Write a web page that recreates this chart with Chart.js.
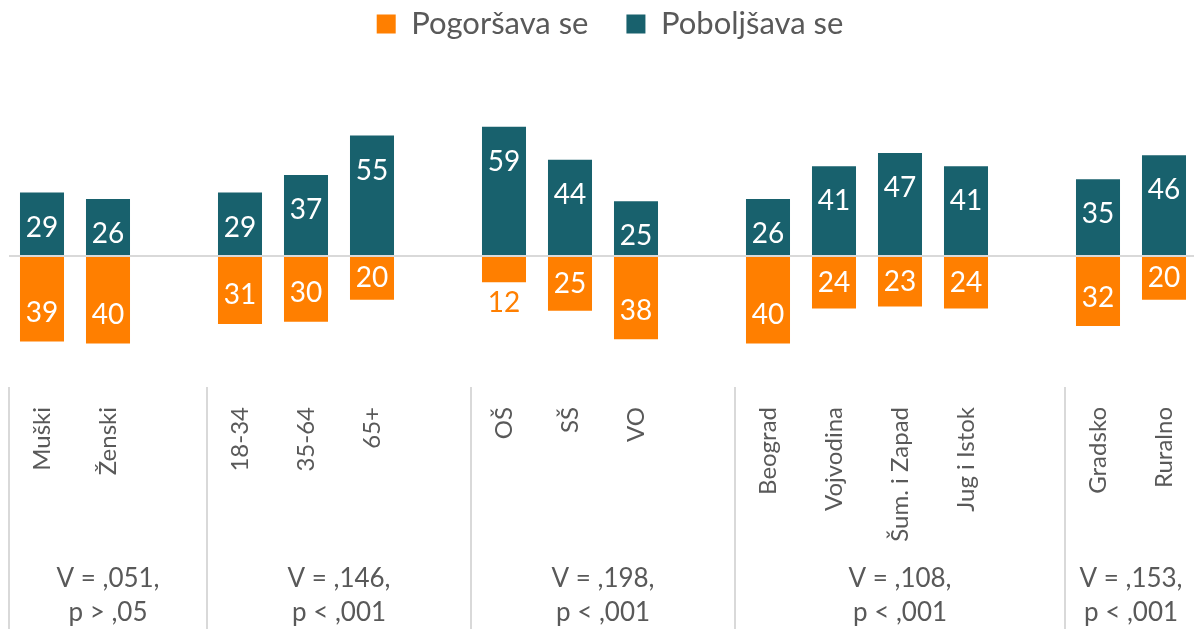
<!DOCTYPE html>
<html><head><meta charset="utf-8">
<script src="https://cdn.jsdelivr.net/npm/chart.js@4.4.0/dist/chart.umd.min.js"></script>
<style>
html,body{margin:0;padding:0;overflow:hidden;background:#fff}
#wrap{width:1211px;height:629px;position:relative}
</style></head>
<body><div id="wrap"><canvas id="c"></canvas></div>
<script>
const categories = ['Muški','Ženski','','18-34','35-64','65+','','OŠ','SŠ','VO','','Beograd','Vojvodina','Šum. i Zapad','Jug i Istok','','Gradsko','Ruralno'];
const worse  = [39,40,null,31,30,20,null,12,25,38,null,40,24,23,24,null,32,20];
const better = [29,26,null,29,37,55,null,59,44,25,null,26,41,47,41,null,35,46];
const seriesNames = ['Pogoršava se','Poboljšava se'];
const groupStarts = [0,3,7,11,16];
const statLine1 = ['V = ,051,','V = ,146,','V = ,198,','V = ,108,','V = ,153,'];
const statLine2 = ['p > ,05','p < ,001','p < ,001','p < ,001','p < ,001'];

const ORANGE = '#FF7F00', TEAL = '#18616D', GREY = '#595959', LINE = '#D9D9D9';
const FONT = 'Lato';

const overlay = {
  id: 'overlay',
  afterDatasetsDraw(chart) {
    const ctx = chart.ctx;
    ctx.save();
    ctx.font = '28px ' + FONT;
    ctx.textAlign = 'center';
    ctx.textBaseline = 'middle';
    chart.getDatasetMeta(0).data.forEach((el, i) => {
      if (worse[i] == null) return;
      const h = el.y - el.base;
      let y, col;
      if (h < 35) { y = el.y + 21; col = ORANGE; }
      else { y = el.y - Math.min(28.5, h / 2); col = '#FFFFFF'; }
      ctx.fillStyle = col;
      ctx.fillText(String(worse[i]), el.x, y);
    });
    chart.getDatasetMeta(1).data.forEach((el, i) => {
      if (better[i] == null) return;
      ctx.fillStyle = '#FFFFFF';
      ctx.fillText(String(better[i]), el.x, el.y + 35);
    });
    ctx.restore();
  },
  afterDraw(chart) {
    const ctx = chart.ctx, xs = chart.scales.x, ca = chart.chartArea;
    const slot = xs.getPixelForValue(1) - xs.getPixelForValue(0);
    const edges = groupStarts.map(i => xs.getPixelForValue(i) - slot / 2);
    edges.push(ca.right);
    ctx.save();
    ctx.strokeStyle = LINE;
    ctx.lineWidth = 2;
    for (let k = 0; k < groupStarts.length; k++) {
      ctx.beginPath();
      ctx.moveTo(edges[k], ca.bottom + 2);
      ctx.lineTo(edges[k], chart.height);
      ctx.stroke();
    }
    ctx.fillStyle = GREY;
    ctx.font = '26px ' + FONT;
    ctx.textAlign = 'center';
    ctx.textBaseline = 'middle';
    for (let k = 0; k < groupStarts.length; k++) {
      const cx = (edges[k] + edges[k + 1]) / 2;
      ctx.fillText(statLine1[k], cx, ca.bottom + 194);
      ctx.fillText(statLine2[k], cx, ca.bottom + 228);
    }
    ctx.restore();
  }
};

new Chart(document.getElementById('c'), {
  type: 'bar',
  data: {
    labels: categories,
    datasets: [
      { label: seriesNames[0], data: worse.map(v => v == null ? null : -v), backgroundColor: ORANGE,
        barPercentage: 0.667, categoryPercentage: 1 },
      { label: seriesNames[1], data: better, backgroundColor: TEAL,
        barPercentage: 0.667, categoryPercentage: 1 }
    ]
  },
  options: {
    responsive: true,
    maintainAspectRatio: false,
    animation: false,
    layout: { padding: { top: -29.5, left: 9, right: 0, bottom: 0 } },
    plugins: {
      legend: {
        position: 'top',
        labels: { boxWidth: 19, boxHeight: 19, padding: 38, color: GREY,
          font: { family: FONT, size: 31 } }
      },
      tooltip: { enabled: false }
    },
    scales: {
      x: {
        stacked: true,
        grid: { display: false },
        border: { display: false },
        ticks: { autoSkip: false, minRotation: 90, maxRotation: 90, padding: 14, color: GREY,
          font: { family: FONT, size: 24 } },
        afterFit: s => { s.height = 244; }
      },
      y: {
        stacked: true,
        position: 'right',
        min: -58.9,
        max: 94.3,
        border: { display: false },
        grid: { drawTicks: false, lineWidth: 2,
          color: c => (c.tick && c.tick.value === 0) ? LINE : 'rgba(0,0,0,0)' },
        ticks: { display: false, stepSize: 10 },
        afterFit: s => { s.width = 14; }
      }
    }
  },
  plugins: [overlay]
});
</script>
</body></html>
